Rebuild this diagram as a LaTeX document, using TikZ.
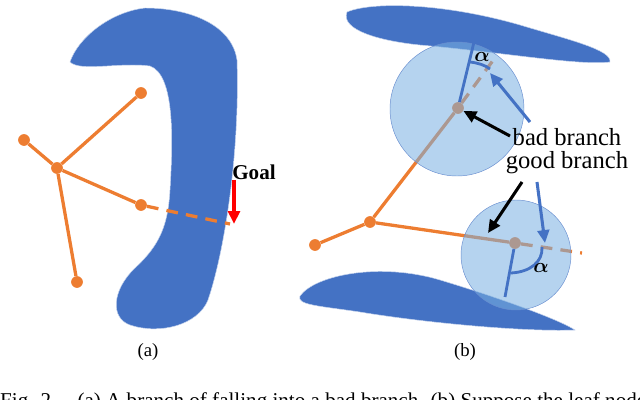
\documentclass[tikz,border=0pt]{standalone}
\usepackage{amsmath}
\usepackage{fontspec}
\setmainfont{Liberation Serif}
\usetikzlibrary{arrows.meta}
\definecolor{obst}{RGB}{68,114,196}
\definecolor{branch}{RGB}{237,125,49}
\definecolor{disk}{RGB}{120,175,225}
\tikzset{
  obstacle/.style={fill=obst, draw=white!70!obst, thin},
  edge/.style={draw=branch, line width=2.8pt},
  ext/.style={edge, dash pattern=on 10pt off 7pt},
  vertex/.style={circle, fill=branch, inner sep=0pt, minimum size=10pt},
  region/.style={circle, fill=disk, fill opacity=0.55, draw=obst!80, thin},
  normal/.style={draw=obst, line width=2.4pt},
  pointer/.style={-{Triangle[length=11pt,width=10pt]}, line width=2.6pt},
  lbl/.style={font=\fontsize{21}{20}\selectfont, align=center, inner sep=0pt},
  subcap/.style={font=\fontsize{16}{19}\selectfont}
}
\begin{document}
\begin{tikzpicture}[x=0.03cm, y=-0.03cm]
\useasboundingbox (0,0) rectangle (640,400);
% (a) obstacle
\path[obstacle] (70,62) .. controls (78,38) and (110,12) .. (145,8)
  .. controls (190,8) and (232,25) .. (237,60)
  .. controls (240,150) and (225,250) .. (208,300)
  .. controls (198,325) and (160,335) .. (130,325)
  .. controls (110,318) and (112,290) .. (135,268)
  .. controls (160,245) and (168,225) .. (170,190)
  .. controls (173,140) and (175,75) .. (150,66)
  .. controls (120,62) and (80,72) .. (70,62) -- cycle;
% (a) tree
\node[vertex] (ra) at (57,168) {};
\node[vertex] (a1) at (141,93) {};
\node[vertex] (a2) at (24,140) {};
\node[vertex] (a3) at (141,205) {};
\node[vertex] (a4) at (77,282) {};
\coordinate (ga) at (230,224);
\foreach \n in {a1,a2,a3,a4} \draw[edge] (ra) -- (\n);
\draw[ext] (a3) -- (ga);
\node[font=\bfseries\fontsize{18}{20}\selectfont, inner sep=0pt] (goal) at (254,172) {Goal};
\coordinate (gt) at (234,224);
\draw[pointer, red] (234,180) -- (gt);
\node[subcap] (capa) at (148,352) {(a)};
% (b) obstacles
\path[obstacle] (347,12) .. controls (370,2) and (440,2) .. (520,25)
  .. controls (570,40) and (612,50) .. (610,62)
  .. controls (580,66) and (500,52) .. (420,45)
  .. controls (380,41) and (340,30) .. (347,12) -- cycle;
\path[obstacle] (300,296) .. controls (315,275) and (380,262) .. (440,280)
  .. controls (500,298) and (560,320) .. (575,330)
  .. controls (520,332) and (420,322) .. (360,312)
  .. controls (320,306) and (296,305) .. (300,296) -- cycle;
% (b) tree
\node[vertex] (rb) at (370,222) {};
\node[vertex] (b1) at (315,245) {};
\node[vertex] (up) at (458,108) {};
\node[vertex] (lo) at (515,243) {};
\coordinate (ue) at (497,55);
\coordinate (le) at (582,253);
\draw[edge] (rb) -- (b1);
\draw[edge] (rb) -- (up);
\draw[edge] (rb) -- (lo);
\draw[ext] (up) -- (ue);
\draw[ext] (lo) -- (le);
% safety regions
\path[region] (457,109) circle[radius=67];
\path[region] (516,255) circle[radius=55];
% normals and angles
\coordinate (un) at (474,42);
\coordinate (ln) at (505,297);
\draw[normal] (up) -- (un);
\draw[normal] (lo) -- (ln);
\draw[normal] (470,62) .. controls (478,63) and (485,65) .. (490,69);
\draw[normal] (542,247) .. controls (543,262) and (530,272) .. (511,273);
\node[font=\fontsize{17}{18}\selectfont, inner sep=0pt] (au) at (482,57) {$\boldsymbol\alpha$};
\node[font=\fontsize{17}{18}\selectfont, inner sep=0pt] (al) at (541,268) {$\boldsymbol\alpha$};
% labels
\node[lbl] (branches) at (567,151) {bad branch\\good branch};
\draw[pointer] (510,136) -- (up);
\draw[pointer] (522,182) -- (488,233);
\draw[pointer, obst] (530,122) -- (490,73);
\draw[pointer, obst] (537,182) -- (545,243);
\node[subcap] (capb) at (465,352) {(b)};
\node[font=\fontsize{18}{20}\selectfont, anchor=west, inner sep=0pt] (fig) at (0,402) {Fig. 2.\quad (a) A branch of falling into a bad branch. (b) Suppose the leaf node};
\end{tikzpicture}
\end{document}
